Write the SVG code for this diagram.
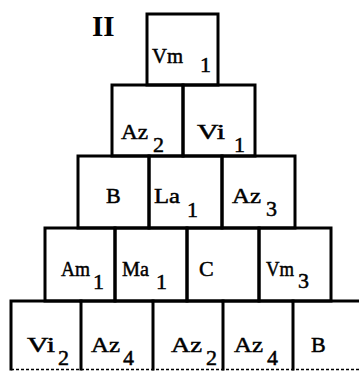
<svg xmlns="http://www.w3.org/2000/svg" width="359" height="371" viewBox="0 0 359 371">
<style>
.b{fill:none;stroke:#000;stroke-width:3;stroke-linecap:square}
.t{font-family:"Liberation Serif","Times New Roman",serif;font-size:22px;fill:#000;stroke:#000;stroke-width:0.5}
.h{font-family:"Liberation Serif","Times New Roman",serif;font-size:29px;font-weight:bold;fill:#000}
.e{stroke:#000;stroke-width:1.5;stroke-dasharray:3 2}
</style>
<rect width="359" height="371" fill="#fff"/>
<text class="h" x="92" y="36">II</text>
<g id="r1-vm1"><rect class="b" x="147" y="14" width="71" height="71"/><text class="t" x="152" y="63" textLength="31" lengthAdjust="spacingAndGlyphs">Vm</text><text class="t" x="200" y="72">1</text></g>
<g id="r2-az2"><rect class="b" x="112" y="85" width="71" height="71"/><text class="t" x="121" y="139" textLength="27" lengthAdjust="spacingAndGlyphs">Az</text><text class="t" x="153" y="152">2</text></g>
<g id="r2-vi1"><rect class="b" x="183" y="85" width="72" height="71"/><text class="t" x="197" y="139" textLength="28" lengthAdjust="spacingAndGlyphs">Vi</text><text class="t" x="234" y="152">1</text></g>
<g id="r3-b"><rect class="b" x="78" y="156" width="71" height="72"/><text class="t" x="106" y="203">B</text></g>
<g id="r3-la1"><rect class="b" x="149" y="156" width="73" height="72"/><text class="t" x="154" y="203" textLength="26" lengthAdjust="spacingAndGlyphs">La</text><text class="t" x="187" y="217">1</text></g>
<g id="r3-az3"><rect class="b" x="222" y="156" width="73" height="72"/><text class="t" x="232" y="203" textLength="29" lengthAdjust="spacingAndGlyphs">Az</text><text class="t" x="266" y="216">3</text></g>
<g id="r4-am1"><rect class="b" x="45" y="228" width="70" height="73"/><text class="t" x="61" y="276" textLength="29" lengthAdjust="spacingAndGlyphs">Am</text><text class="t" x="93" y="289">1</text></g>
<g id="r4-ma1"><rect class="b" x="115" y="228" width="72" height="73"/><text class="t" x="122" y="276" textLength="27" lengthAdjust="spacingAndGlyphs">Ma</text><text class="t" x="156" y="289">1</text></g>
<g id="r4-c"><rect class="b" x="187" y="228" width="72" height="73"/><text class="t" x="199" y="276">C</text></g>
<g id="r4-vm3"><rect class="b" x="259" y="228" width="72" height="73"/><text class="t" x="266" y="276" textLength="28" lengthAdjust="spacingAndGlyphs">Vm</text><text class="t" x="298" y="288">3</text></g>
<g id="r5-vi2"><path class="b" d="M11 369V301H81V369"/><text class="t" x="27" y="352" textLength="28" lengthAdjust="spacingAndGlyphs">Vi</text><text class="t" x="58" y="365">2</text></g>
<g id="r5-az4a"><path class="b" d="M81 301H153V369"/><text class="t" x="91" y="352" textLength="29" lengthAdjust="spacingAndGlyphs">Az</text><text class="t" x="123" y="365">4</text></g>
<g id="r5-az2"><path class="b" d="M153 301H223V369"/><text class="t" x="171" y="352" textLength="31" lengthAdjust="spacingAndGlyphs">Az</text><text class="t" x="206" y="365">2</text></g>
<g id="r5-az4b"><path class="b" d="M223 301H293V369"/><text class="t" x="234" y="352" textLength="29" lengthAdjust="spacingAndGlyphs">Az</text><text class="t" x="267" y="365">4</text></g>
<g id="r5-b"><path class="b" d="M293 301H359"/><text class="t" x="311" y="352">B</text></g>
<g id="edges"><path class="e" d="M11 369.5H359"/></g>
</svg>
